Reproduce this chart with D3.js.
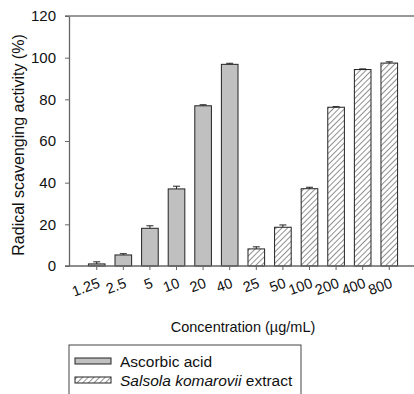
<!DOCTYPE html>
<html>
<head>
<meta charset="utf-8">
<script src="https://cdn.jsdelivr.net/npm/d3@7"></script>
<style>
  body { margin: 0; background: #fff; }
  text { font-family: Arial, "Liberation Sans", sans-serif; fill: #111; }
</style>
</head>
<body>
<svg width="414" height="394"></svg>
<script>
// concentrations (tick labels), one bar each
var labels = ["1.25", "2.5", "5", "10", "20", "40", "25", "50", "100", "200", "400", "800"];
// which series each bar belongs to
var groups = ["asc", "asc", "asc", "asc", "asc", "asc", "sk", "sk", "sk", "sk", "sk", "sk"];
// radical scavenging activity (%) and error
var values = [1.0, 5.3, 18.1, 37.0, 76.9, 96.8, 8.2, 18.6, 37.1, 76.2, 94.3, 97.4];
var errors = [1.0, 0.6, 1.2, 1.3, 0.5, 0.5, 1.0, 1.1, 0.7, 0.3, 0.3, 0.6];
var yTicks = [0, 20, 40, 60, 80, 100, 120];
var legendNames = ["Ascorbic acid", "Salsola komarovii extract"];

function main() {
    var svg = d3.select("svg");
    var left = 69, right = 417, top = 16, bottom = 266;

    var defs = svg.append("defs");
    var pat = defs.append("pattern")
        .attr("id", "hatch")
        .attr("patternUnits", "userSpaceOnUse")
        .attr("width", 4).attr("height", 4)
        .attr("patternTransform", "rotate(45)");
    pat.append("rect").attr("width", 4).attr("height", 4).attr("fill", "#fff");
    pat.append("line")
        .attr("x1", 0).attr("y1", 0).attr("x2", 0).attr("y2", 4)
        .attr("stroke", "#222").attr("stroke-width", 1);

    var x = d3.scaleBand()
        .domain(d3.range(labels.length))
        .range([left, right])
        .paddingInner(0.375)
        .paddingOuter(0.73);

    var y = d3.scaleLinear().domain([0, 120]).range([bottom, top]);

    var fill = function(g) { return g == "asc" ? "#c0c0c0" : "url(#hatch)"; };

    // frame top line
    svg.append("line")
        .attr("x1", left - 4).attr("x2", 414)
        .attr("y1", top).attr("y2", top)
        .attr("stroke", "#777").attr("stroke-width", 1.5);

    // y axis
    var yAxis = svg.append("g")
        .attr("transform", "translate(" + left + ",0)")
        .call(d3.axisLeft(y).tickValues(yTicks).tickSize(4).tickSizeOuter(0).tickPadding(9));
    yAxis.select(".domain").attr("stroke", "#666").attr("stroke-width", 1.3);
    yAxis.selectAll(".tick line").attr("stroke", "#666");
    yAxis.selectAll("text").style("font-size", "15px").attr("font-family", null);

    // bars
    var bars = svg.append("g").selectAll("g")
        .data(values).enter().append("g");

    bars.append("rect")
        .attr("x", function(d, i) { return x(i); })
        .attr("width", x.bandwidth())
        .attr("y", function(d) { return y(d); })
        .attr("height", function(d) { return y(0) - y(d); })
        .attr("fill", function(d, i) { return fill(groups[i]); })
        .attr("stroke", "#222").attr("stroke-width", 1);

    // error bars
    bars.append("path")
        .attr("d", function(d, i) {
            var cx = x(i) + x.bandwidth() / 2;
            var t = y(d + errors[i]);
            return "M" + cx + "," + y(d) + "V" + t + "M" + (cx - 3.5) + "," + t + "H" + (cx + 3.5);
        })
        .attr("stroke", "#222").attr("stroke-width", 1).attr("fill", "none");

    // x axis
    var xAxis = svg.append("g")
        .attr("transform", "translate(0," + bottom + ")")
        .call(d3.axisBottom(x).tickSize(4).tickSizeOuter(0).tickFormat(function(i) { return labels[i]; }));
    xAxis.select(".domain").attr("d", "M" + (left - 4) + ",0H414").attr("stroke", "#666").attr("stroke-width", 1.3);
    xAxis.selectAll(".tick line").attr("stroke", "#666");
    xAxis.selectAll("text")
        .style("font-size", "14.5px").attr("font-family", null)
        .attr("text-anchor", "end")
        .attr("dy", null)
        .attr("y", 0)
        .attr("transform", "translate(4,21) rotate(-20)");

    // axis titles
    svg.append("text")
        .attr("x", 243).attr("y", 332)
        .attr("text-anchor", "middle")
        .style("font-size", "14.5px")
        .text("Concentration (\u00b5g/mL)");

    svg.append("text")
        .attr("transform", "translate(24,145) rotate(-90)")
        .attr("text-anchor", "middle")
        .style("font-size", "16px")
        .text("Radical scavenging activity (%)");

    // legend
    var lg = svg.append("g");
    lg.append("rect")
        .attr("x", 69).attr("y", 345).attr("width", 232).attr("height", 60)
        .attr("fill", "#fff").attr("stroke", "#444").attr("stroke-width", 1);

    var item = lg.selectAll(".item")
        .data(legendNames).enter().append("g")
        .attr("class", "item")
        .attr("transform", function(d, i) { return "translate(0," + (361 + i * 19) + ")"; });

    item.append("rect")
        .attr("x", 75).attr("y", -3).attr("width", 36).attr("height", 6)
        .attr("fill", function(d, i) { return i == 0 ? "#c0c0c0" : "url(#hatch)"; })
        .attr("stroke", "#222").attr("stroke-width", 1);

    var t0 = item.filter(function(d, i) { return i == 0; }).append("text")
        .attr("x", 120).attr("y", 5.5).style("font-size", "15.5px").text(legendNames[0]);
    var t1 = item.filter(function(d, i) { return i == 1; }).append("text")
        .attr("x", 120).attr("y", 5.5).style("font-size", "15.5px");
    t1.append("tspan").style("font-style", "italic").text("Salsola komarovii");
    t1.append("tspan").text(" extract");
}
main();
</script>
</body>
</html>
